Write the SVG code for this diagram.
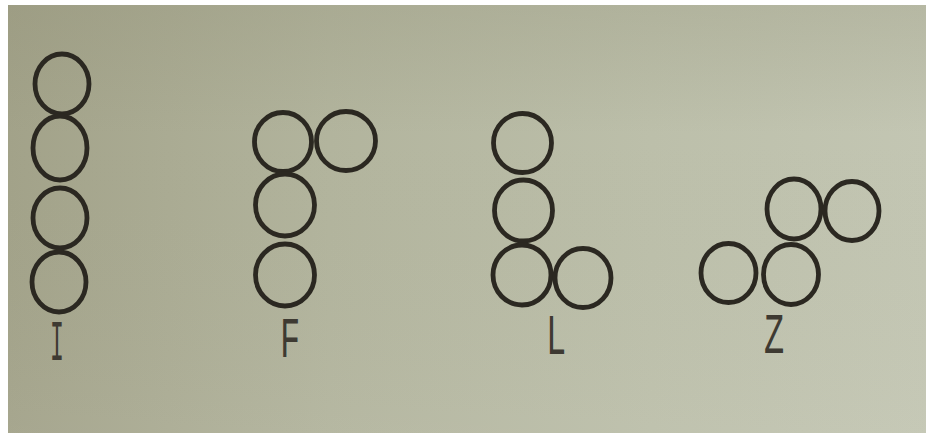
<svg xmlns="http://www.w3.org/2000/svg" width="931" height="441" viewBox="0 0 931 441">
  <defs>
    <linearGradient id="paper" x1="0" y1="0" x2="1" y2="0">
      <stop offset="0" stop-color="#a2a289"/>
      <stop offset="0.35" stop-color="#b2b49d"/>
      <stop offset="0.7" stop-color="#bcbfaa"/>
      <stop offset="1" stop-color="#c3c6b3"/>
    </linearGradient>
    <linearGradient id="shade" x1="0" y1="0" x2="0" y2="1">
      <stop offset="0" stop-color="#8f8e74" stop-opacity="0.25"/>
      <stop offset="0.3" stop-color="#8f8e74" stop-opacity="0"/>
      <stop offset="1" stop-color="#ffffff" stop-opacity="0.05"/>
    </linearGradient>
  </defs>
  <style>
    .c { fill: none; stroke: #2b2821; stroke-width: 4.8; }
    .lbl { font-family: "Liberation Mono", "DejaVu Sans Mono", monospace; font-size: 58px; fill: #3e3a32; text-anchor: middle; }
  </style>
  <rect x="0" y="0" width="931" height="441" fill="#ffffff"/>
  <rect x="8" y="5" width="918" height="428" fill="url(#paper)"/>
  <rect x="8" y="5" width="918" height="428" fill="url(#shade)"/>

  <g id="piece-I">
    <ellipse class="c" cx="62" cy="84" rx="27" ry="30"/>
    <ellipse class="c" cx="60" cy="148" rx="27" ry="32"/>
    <ellipse class="c" cx="60" cy="218" rx="27" ry="30"/>
    <ellipse class="c" cx="59" cy="282" rx="27" ry="30"/>
    <text class="lbl" transform="translate(57 360) scale(0.4 1)">I</text>
  </g>

  <g id="piece-F">
    <ellipse class="c" cx="283" cy="142" rx="28.5" ry="29.5"/>
    <ellipse class="c" cx="346" cy="141" rx="29.5" ry="29.5"/>
    <ellipse class="c" cx="285" cy="205" rx="29.5" ry="31"/>
    <ellipse class="c" cx="285" cy="275" rx="29.5" ry="31"/>
    <text class="lbl" transform="translate(290 357) scale(0.58 1)">F</text>
  </g>

  <g id="piece-L">
    <ellipse class="c" cx="522.5" cy="143" rx="29" ry="29.5"/>
    <ellipse class="c" cx="523.5" cy="210.5" rx="29" ry="30.5"/>
    <ellipse class="c" cx="522" cy="275" rx="29" ry="30"/>
    <ellipse class="c" cx="583" cy="278" rx="28" ry="29.5"/>
    <text class="lbl" transform="translate(556 354) scale(0.58 1)">L</text>
  </g>

  <g id="piece-Z">
    <ellipse class="c" cx="794" cy="209" rx="27" ry="30"/>
    <ellipse class="c" cx="852" cy="211" rx="27" ry="29.5"/>
    <ellipse class="c" cx="728.5" cy="273" rx="27.5" ry="29.5"/>
    <ellipse class="c" cx="791" cy="274.5" rx="27.5" ry="30"/>
    <text class="lbl" transform="translate(774 353) scale(0.58 1)">Z</text>
  </g>
</svg>
